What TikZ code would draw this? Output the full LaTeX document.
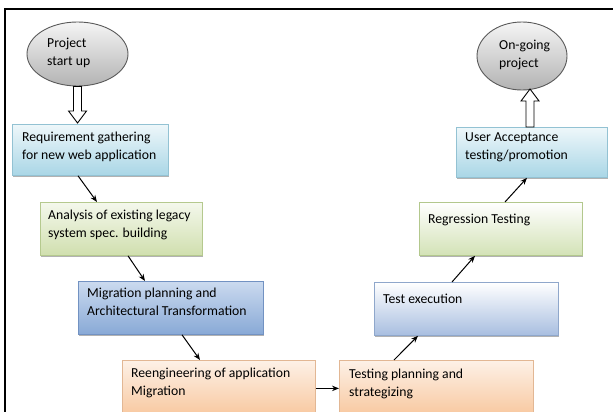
\documentclass[tikz,border=0pt]{standalone}
\usepackage{fontspec}
\setmainfont{Carlito}
\usetikzlibrary{shapes.geometric,shadows,arrows.meta}

% box fills (top / bottom of the vertical gradient) and borders
\definecolor{skyTop}{HTML}{EEF7FA}
\definecolor{skyBot}{HTML}{A9D6E6}
\definecolor{skyLine}{HTML}{93C2D3}
\definecolor{leafTop}{HTML}{F4F8EC}
\definecolor{leafBot}{HTML}{D0DFAE}
\definecolor{leafLine}{HTML}{B5C98E}
\definecolor{steelTop}{HTML}{CBDAEF}
\definecolor{steelBot}{HTML}{88A9D6}
\definecolor{steelLine}{HTML}{7292C2}
\definecolor{peachTop}{HTML}{FDF1E7}
\definecolor{peachBot}{HTML}{F8C79E}
\definecolor{peachLine}{HTML}{E2B794}
\definecolor{paleTop}{HTML}{FFFFFF}
\definecolor{paleBlueBot}{HTML}{A8BEE0}
\definecolor{paleBlueLine}{HTML}{8FA7CB}
\definecolor{paleGreenBot}{HTML}{D3E2B6}
\definecolor{paleGreenLine}{HTML}{B3C88D}
\definecolor{orbLine}{HTML}{5A5A5A}

\tikzset{
  procbox/.style={draw, line width=0.8pt, anchor=north west, inner sep=0pt,
    drop shadow={shadow xshift=0.8pt, shadow yshift=-1.5pt, opacity=0.3, fill=black}},
  skybox/.style={procbox, draw=skyLine, top color=skyTop, bottom color=skyBot},
  leafbox/.style={procbox, draw=leafLine, top color=leafTop, bottom color=leafBot},
  steelbox/.style={procbox, draw=steelLine, top color=steelTop, bottom color=steelBot},
  peachbox/.style={procbox, draw=peachLine, top color=peachTop, bottom color=peachBot},
  paleblue/.style={procbox, draw=paleBlueLine, top color=paleTop, bottom color=paleBlueBot},
  palegreen/.style={procbox, draw=paleGreenLine, top color=paleTop, bottom color=paleGreenBot},
  orb/.style={ellipse, draw=orbLine, line width=0.9pt, inner sep=0pt,
    top color=gray!8, bottom color=gray!60},
  % text block: top edge sits one strut above the first baseline
  lbl/.style={anchor=north west, align=left, inner sep=0pt,
    font=\fontsize{13.7}{18}\selectfont, execute at begin node=\strut},
  flow/.style={line width=1pt, -{Stealth[length=7pt,width=5.5pt]}},
  hollow/.style={draw=black, fill=white, line width=0.9pt, line join=miter},
}

\begin{document}
\begin{tikzpicture}[x=1pt,y=-1pt]
\clip (0,0) rectangle (613,412);
\fill[white] (0,0) rectangle (613,412);

% frame
\draw[line width=2pt] (5,412) -- (5,9) -- (613,9);

% start and end
\node[orb, minimum width=101pt, minimum height=64pt] (e1) at (77.5,54) {};
\node[lbl] (te1) at (47,37.4) {Project\\start up};
\node[orb, minimum width=90pt, minimum height=68pt] (e2) at (522,56) {};
\node[lbl] (te2) at (499,39.4) {On-going\\project};

% process boxes
\node[skybox, minimum width=156pt, minimum height=51pt] (b1) at (12,124) {};
\node[lbl] (t1) at ([shift={(10pt,-7.4pt)}]b1.north west) {Requirement gathering\\for new web application};

\node[leafbox, minimum width=162pt, minimum height=53pt] (b2) at (40,202) {};
\node[lbl] (t2) at ([shift={(8pt,-7.4pt)}]b2.north west) {Analysis of existing legacy\\system spec. building};

\node[steelbox, minimum width=185pt, minimum height=53pt] (b3) at (78,281) {};
\node[lbl] (t3) at ([shift={(9pt,-6.4pt)}]b3.north west) {Migration planning and\\Architectural Transformation};

\node[peachbox, minimum width=193pt, minimum height=56pt] (b4) at (122,360) {};
\node[lbl] (t4) at ([shift={(9pt,-7.4pt)}]b4.north west) {Reengineering of application\\Migration};

\node[peachbox, minimum width=194pt, minimum height=56pt] (b5) at (339,360) {};
\node[lbl] (t5) at ([shift={(10pt,-8.4pt)}]b5.north west) {Testing planning and\\strategizing};

\node[paleblue, minimum width=184pt, minimum height=53pt] (b6) at (374,282) {};
\node[lbl] (t6) at ([shift={(9pt,-8.4pt)}]b6.north west) {Test execution};

\node[palegreen, minimum width=163pt, minimum height=53pt] (b7) at (419,202) {};
\node[lbl] (t7) at ([shift={(9pt,-8.4pt)}]b7.north west) {Regression Testing};

\node[skybox, minimum width=151pt, minimum height=50pt] (b8) at (456,127) {};
\node[lbl] (t8) at ([shift={(9pt,-5.4pt)}]b8.north west) {User Acceptance\\testing/promotion};

% flow between steps
\draw[flow] ([xshift=66pt]b1.south west) -- ([xshift=57pt]b2.north west);
\draw[flow] ([xshift=88pt]b2.south west) -- ([xshift=67pt]b3.north west);
\draw[flow] ([xshift=104pt]b3.south west) -- ([xshift=78pt]b4.north west);
\draw[flow] (b4.east) -- (b5.west);
\draw[flow] ([xshift=55pt]b5.north west) -- ([xshift=44pt]b6.south west);
\draw[flow] ([xshift=78pt]b6.north west) -- ([xshift=56pt]b7.south west);
\draw[flow] ([xshift=86pt]b7.north west) -- ([xshift=71pt]b8.south west);

% hollow block arrow into the first step
\coordinate (a1tail) at (e1.south);
\coordinate (a1tip) at ([yshift=1pt]e1.south |- b1.north);
\draw[hollow] ([xshift=-4pt]a1tail) -- ([xshift=-4pt,yshift=12pt]a1tip)
  -- ([xshift=-9pt,yshift=12pt]a1tip) -- (a1tip) -- ([xshift=9pt,yshift=12pt]a1tip)
  -- ([xshift=4pt,yshift=12pt]a1tip) -- ([xshift=4pt]a1tail) -- cycle;

% hollow block arrow out of the last step
\coordinate (a2tip) at (530,89);
\coordinate (a2tail) at (a2tip |- b8.north);
\draw[hollow] ([xshift=-4pt]a2tail) -- ([xshift=-4pt,yshift=-12pt]a2tip)
  -- ([xshift=-9pt,yshift=-12pt]a2tip) -- (a2tip) -- ([xshift=9pt,yshift=-12pt]a2tip)
  -- ([xshift=4pt,yshift=-12pt]a2tip) -- ([xshift=4pt]a2tail) -- cycle;
\end{tikzpicture}
\end{document}
